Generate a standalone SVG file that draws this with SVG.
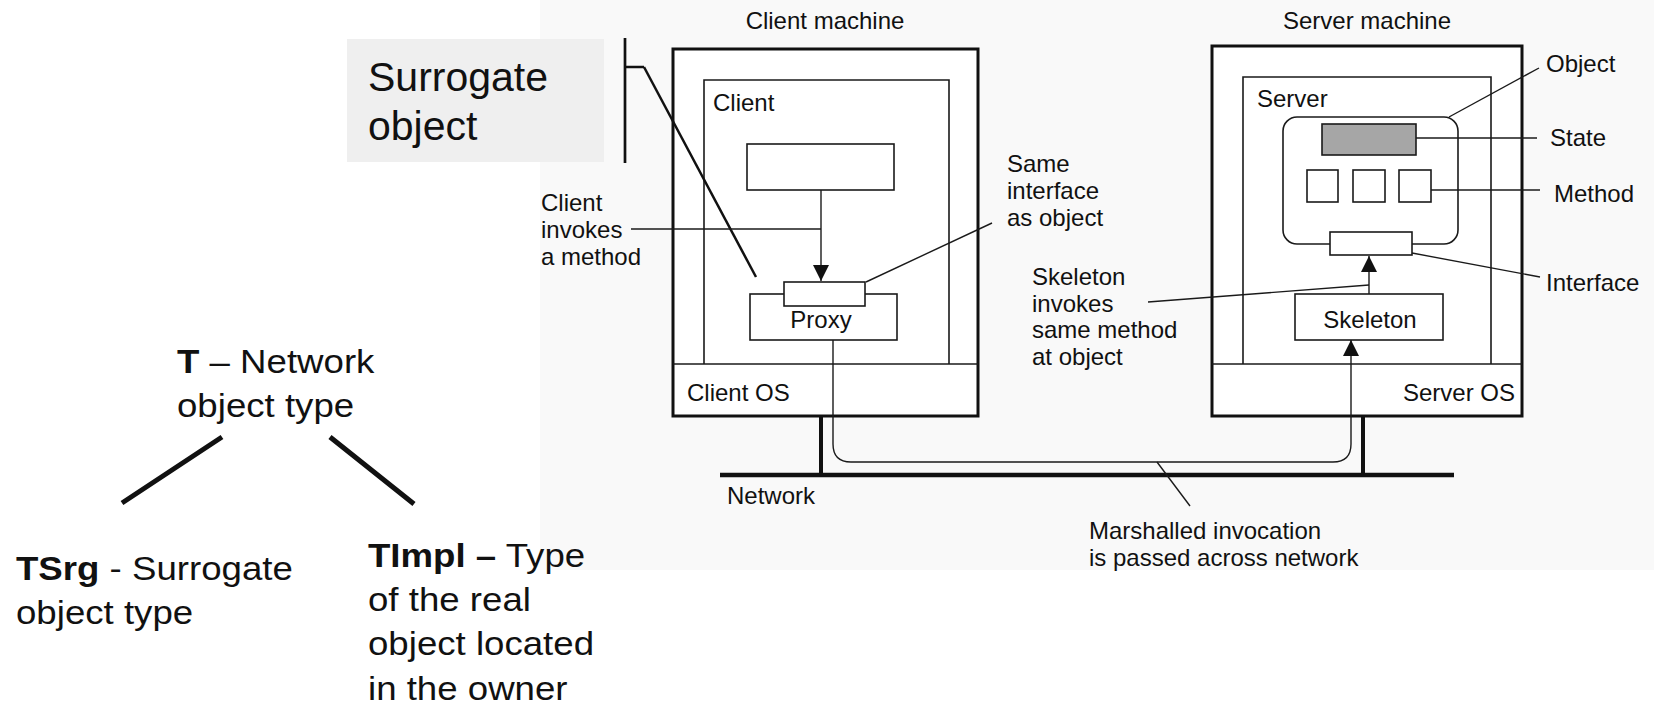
<svg xmlns="http://www.w3.org/2000/svg" width="1654" height="707" viewBox="0 0 1654 707">
<style>
text{font-family:"Liberation Sans",Arial,sans-serif;fill:#111}
.s{font-size:24px}
.big{font-size:41px}
.mid{font-size:33px}
.b{font-weight:bold}
.thin{fill:none;stroke:#1a1a1a;stroke-width:1.6}
.box{fill:#fff;stroke:#1a1a1a;stroke-width:1.6}
.thick{fill:none;stroke:#111;stroke-width:3}
.ln{fill:none;stroke:#1a1a1a;stroke-width:1.4}
</style>
<defs>
<marker id="ah" viewBox="0 0 16 20" refX="16" refY="10" markerWidth="16" markerHeight="20" markerUnits="userSpaceOnUse" orient="auto">
<path d="M0,2 L16,10 L0,18 Z" fill="#111"/>
</marker>
</defs>
<rect x="0" y="0" width="1654" height="707" fill="#fff"/>
<rect x="540" y="0" width="1114" height="570" fill="#f9f9f9"/>

<g id="surrogate-label">
<rect x="347" y="39" width="257" height="123" fill="#efefef"/>
<text class="big" x="368" y="91">Surrogate</text>
<text class="big" x="368" y="140">object</text>
<path d="M625,38 V163 M625,67 H644" fill="none" stroke="#111" stroke-width="2.7"/>
</g>

<g id="client-machine">
<text class="s" x="825" y="29" text-anchor="middle">Client machine</text>
<rect x="673" y="49" width="305" height="367" fill="#fff" stroke="#111" stroke-width="3"/>
<path class="thin" d="M704,364 V80 H949 V364"/>
<path class="thin" d="M673,364 H978"/>
<text class="s" x="713" y="111">Client</text>
<text class="s" x="687" y="401">Client OS</text>
</g>
<g id="client-object"><rect class="box" x="747" y="144" width="147" height="46"/></g>
<g id="proxy">
<rect class="box" x="750" y="294" width="147" height="46"/>
<rect class="box" x="784" y="282" width="81" height="24"/>
<text class="s" x="821" y="328" text-anchor="middle">Proxy</text>
</g>

<g id="server-machine">
<text class="s" x="1367" y="29" text-anchor="middle">Server machine</text>
<rect x="1212" y="46" width="310" height="370" fill="#fff" stroke="#111" stroke-width="3"/>
<path class="thin" d="M1243,364 V77 H1491 V364"/>
<path class="thin" d="M1212,364 H1522"/>
<text class="s" x="1257" y="107">Server</text>
<text class="s" x="1403" y="401">Server OS</text>
</g>
<g id="object">
<rect class="box" x="1283" y="117" width="175" height="127" rx="14"/>
<rect x="1322" y="124" width="94" height="31" fill="#a6a6a6" stroke="#1a1a1a" stroke-width="1.6"/>
<rect class="box" x="1307" y="170" width="31" height="32"/>
<rect class="box" x="1353" y="170" width="32" height="32"/>
<rect class="box" x="1399" y="170" width="32" height="32"/>
<rect class="box" x="1330" y="232" width="82" height="23"/>
</g>
<g id="skeleton">
<rect class="box" x="1295" y="294" width="148" height="46"/>
<text class="s" x="1370" y="328" text-anchor="middle">Skeleton</text>
</g>

<g id="network">
<path d="M720,475 H1454" stroke="#111" stroke-width="4.5"/>
<path d="M821,416 V475 M1363,416 V475" stroke="#111" stroke-width="4"/>
<text class="s" x="727" y="504">Network</text>
</g>

<g id="connectors">
<path class="ln" d="M821,190 V281" marker-end="url(#ah)"/>
<path class="ln" d="M1369,294 V256" marker-end="url(#ah)"/>
<path class="ln" d="M833,340 V444 Q833,462 851,462 H1333 Q1351,462 1351,444 V340" marker-end="url(#ah)"/>
<path d="M644,67 L756,277" fill="none" stroke="#111" stroke-width="2.5"/>
<path class="ln" d="M631,229 H821"/>
<path class="ln" d="M866,282 L992,223"/>
<path class="ln" d="M1148,302 L1369,285"/>
<path class="ln" d="M1157,462 L1190,506"/>
<path class="ln" d="M1449,117 L1539,68"/>
<path class="ln" d="M1416,138 H1537"/>
<path class="ln" d="M1431,190 H1540"/>
<path class="ln" d="M1412,253 L1540,277"/>
</g>

<g id="annotations">
<text class="s" x="541" y="211">Client</text>
<text class="s" x="541" y="238">invokes</text>
<text class="s" x="541" y="265">a method</text>
<text class="s" x="1007" y="172">Same</text>
<text class="s" x="1007" y="199">interface</text>
<text class="s" x="1007" y="226">as object</text>
<text class="s" x="1032" y="285">Skeleton</text>
<text class="s" x="1032" y="312">invokes</text>
<text class="s" x="1032" y="338">same method</text>
<text class="s" x="1032" y="365">at object</text>
<text class="s" x="1546" y="72">Object</text>
<text class="s" x="1550" y="146">State</text>
<text class="s" x="1554" y="202">Method</text>
<text class="s" x="1546" y="291">Interface</text>
<text class="s" x="1089" y="539">Marshalled invocation</text>
<text class="s" x="1089" y="566">is passed across network</text>
</g>

<g id="type-T" transform="translate(177,373) scale(1.11,1)">
<text class="mid" x="0" y="0"><tspan class="b">T</tspan> – Network</text>
<text class="mid" x="0" y="44">object type</text>
</g>
<g id="type-lines">
<path d="M222,437 L122,503 M330,437 L414,504" stroke="#111" stroke-width="5"/>
</g>
<g id="type-TSrg" transform="translate(16,580) scale(1.11,1)">
<text class="mid" x="0" y="0"><tspan class="b">TSrg</tspan> - Surrogate</text>
<text class="mid" x="0" y="44">object type</text>
</g>
<g id="type-TImpl" transform="translate(368,567) scale(1.11,1)">
<text class="mid" x="0" y="0"><tspan class="b">TImpl –</tspan> Type</text>
<text class="mid" x="0" y="44">of the real</text>
<text class="mid" x="0" y="88">object located</text>
<text class="mid" x="0" y="133">in the owner</text>
</g>
</svg>
